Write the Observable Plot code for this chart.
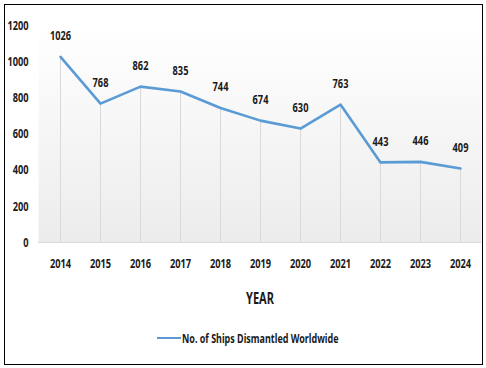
<!DOCTYPE html>
<html><head><meta charset="utf-8">
<script src="https://cdn.jsdelivr.net/npm/d3@7"></script>
<script src="https://cdn.jsdelivr.net/npm/@observablehq/plot@0.6"></script>
<style>
body{margin:0;background:#fff;width:486px;height:368px;position:relative;overflow:hidden;font-family:"Noto Sans",sans-serif;}
#frame{position:absolute;left:4px;top:4px;width:477px;height:359px;border:1px solid #000;}
#chart{position:absolute;left:0;top:0;}
#legend{position:absolute;left:157px;top:330px;height:16px;display:flex;align-items:center;font-size:13px;font-weight:bold;color:#1a1a1a;white-space:nowrap;}
#legend .sw{width:24px;height:0;border-top:2.5px solid #5b9bd5;margin-right:1px;}
#legtext{display:inline-block;transform:scaleX(0.69);transform-origin:left center;}
</style>
</head><body>
<div id="frame"></div>
<div id="chart"></div>
<div id="legend"><span class="sw"></span><span id="legtext"></span></div>
<script>
const years = ["2014","2015","2016","2017","2018","2019","2020","2021","2022","2023","2024"];
const ships = [1026,768,862,835,744,674,630,763,443,446,409];
const yTicks = [0,200,400,600,800,1000,1200];
const seriesName = "No. of Ships Dismantled Worldwide";
const xTitle = "YEAR";
const condense = 0.71;

const data = years.map((y,i)=>({year:y, value:ships[i]}));

const svg = Plot.plot({
  width:486, height:310,
  marginLeft:38, marginRight:5, marginTop:25, marginBottom:68,
  style:{fontFamily:'"Noto Sans",sans-serif', fontSize:"13px", color:"#1a1a1a", background:"transparent", overflow:"visible"},
  x:{type:"point", domain:years, padding:0.5},
  y:{domain:[0,1200]},
  marks:[
    Plot.frame({fill:"url(#bggrad)", stroke:"none"}),
    Plot.ruleX(data,{x:"year", y1:0, y2:"value", stroke:"#d9d9d9", strokeWidth:1}),
    Plot.ruleY([0],{stroke:"#d9d9d9", strokeWidth:1}),
    Plot.line(data,{x:"year", y:"value", stroke:"#5b9bd5", strokeWidth:2.6}),
    Plot.text(data,{x:"year", y:"value", text:d=>String(d.value), dy:-21, fontWeight:"bold", fontSize:13, fill:"#1a1a1a"}),
    Plot.axisX({tickSize:0, tickPadding:16, fontWeight:"bold", fontSize:13, label:xTitle, labelAnchor:"center", labelArrow:"none", labelOffset:61}),
    Plot.axisY({ticks:yTicks, tickSize:0, tickPadding:10, fontWeight:"bold", fontSize:13, label:null, tickFormat:d=>String(d)})
  ]
});
const ns="http://www.w3.org/2000/svg";
const defs=document.createElementNS(ns,"defs");
defs.innerHTML='<linearGradient id="bggrad" x1="0" y1="0" x2="0" y2="1"><stop offset="0" stop-color="#ffffff"/><stop offset="1" stop-color="#ececec"/></linearGradient>';
svg.insertBefore(defs, svg.firstChild);
svg.querySelectorAll('[aria-label="x-axis label"] text').forEach(t=>{t.style.fontSize="15.5px";t.style.fontWeight="bold";});
document.getElementById("chart").appendChild(svg);
// condensed look (narrow font) via textLength
svg.querySelectorAll("text").forEach(t=>{
  const w=t.getComputedTextLength();
  if(w>0){t.setAttribute("textLength",(w*condense).toFixed(2));t.setAttribute("lengthAdjust","spacingAndGlyphs");}
});
document.getElementById("legtext").textContent=seriesName;
</script>
</body></html>
